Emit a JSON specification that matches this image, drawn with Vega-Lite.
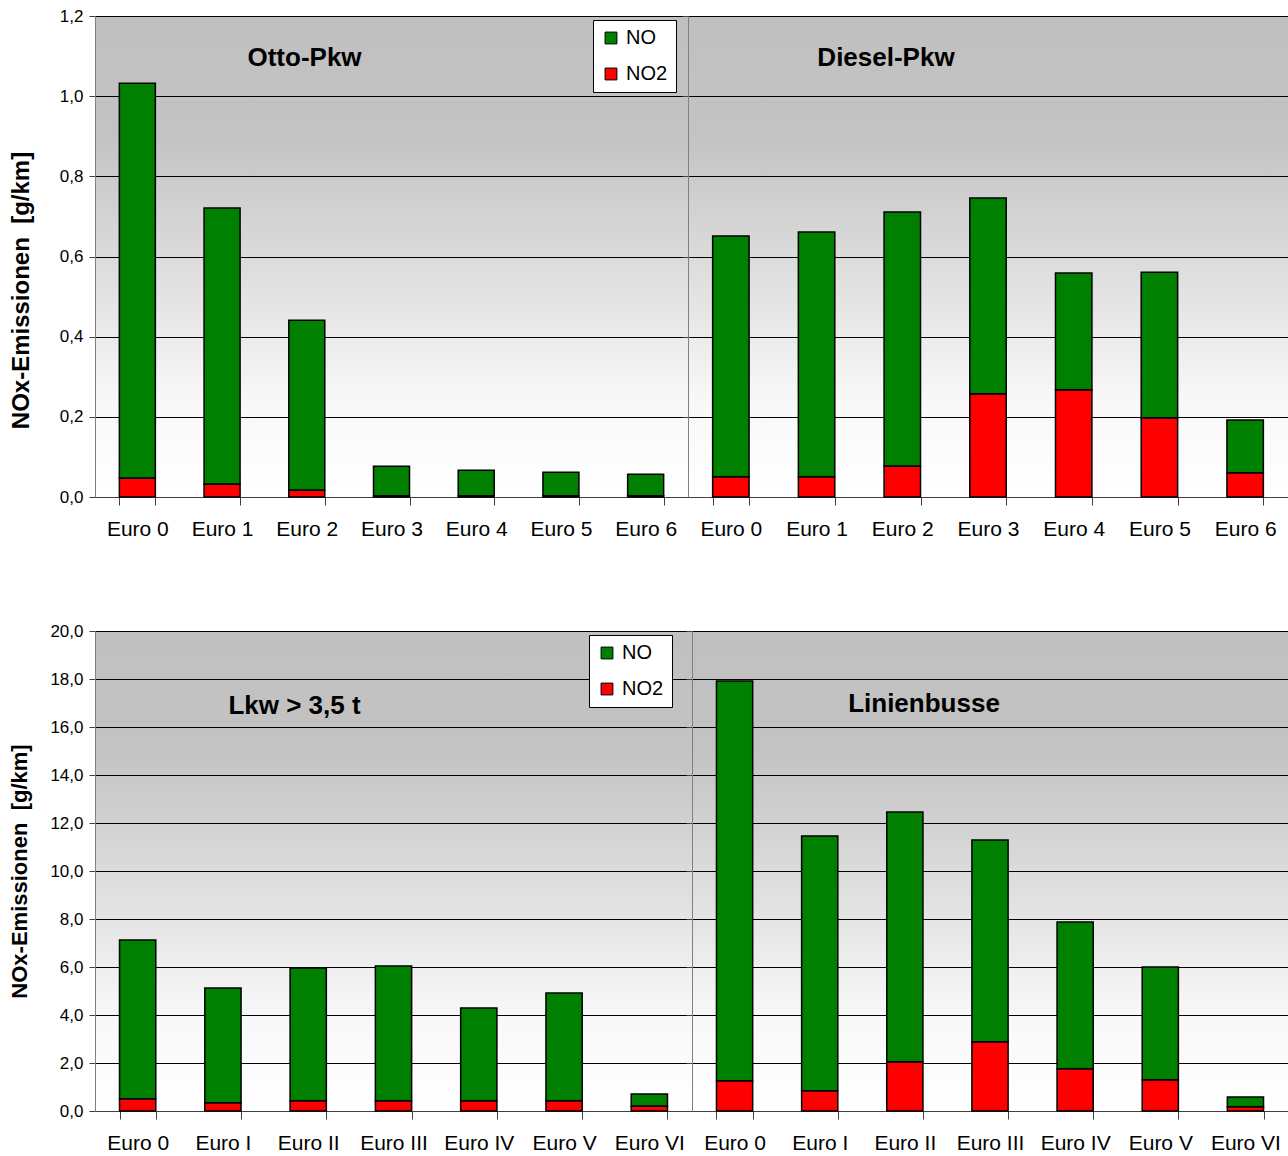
{
  "$schema": "https://vega.github.io/schema/vega-lite/v6.json",
  "padding": {"left": 8, "top": 6, "right": 0, "bottom": 0},
  "background": "white",
  "config": {
    "locale": {"number": {"decimal": ",", "thousands": ".", "grouping": [3], "currency": ["", " €"]}},
    "font": "Liberation Sans",
    "view": {
      "stroke": "#808080",
      "strokeWidth": 1,
      "fill": {"gradient": "linear", "x1": 0, "y1": 0, "x2": 0, "y2": 1,
        "stops": [{"offset": 0, "color": "#c0c0c0"}, {"offset": 0.25, "color": "#c3c3c3"}, {"offset": 0.8, "color": "#f8f8f8"}, {"offset": 1, "color": "#ffffff"}]}
    },
    "axisX": {"tickBand": "extent", "tickSize": 8, "tickColor": "#404040", "domainColor": "#404040", "labelFontSize": 21, "labelPadding": 13, "labelAngle": 0, "labelColor": "#000", "grid": false, "title": null},
    "axisY": {"tickSize": 6, "tickColor": "#404040", "domainColor": "#808080", "labelFontSize": 17, "labelPadding": 6, "labelColor": "#000", "grid": true, "gridColor": "#000", "gridOpacity": 1, "gridWidth": 1, "titleFontWeight": "bold", "titleColor": "#000"},
    "legend": {"orient": "none", "direction": "vertical", "fillColor": "white", "strokeColor": "#000", "padding": 8, "columnPadding": 0, "symbolType": "square", "symbolSize": 140, "symbolStrokeColor": "#000", "symbolStrokeWidth": 1, "symbolOpacity": 1, "labelFontSize": 20, "labelColor": "#000", "rowPadding": 16, "labelOffset": 5},
    "title": {"fontSize": 26, "fontWeight": "bold", "color": "#000", "frame": "group", "baseline": "middle", "anchor": "middle"}
  },
  "datasets": {
    "pkw": [
      {"group": "Otto-Pkw", "klasse": "Euro 0", "komp": "NO", "wert": 0.985},
      {"group": "Otto-Pkw", "klasse": "Euro 0", "komp": "NO2", "wert": 0.047},
      {"group": "Otto-Pkw", "klasse": "Euro 1", "komp": "NO", "wert": 0.689},
      {"group": "Otto-Pkw", "klasse": "Euro 1", "komp": "NO2", "wert": 0.032},
      {"group": "Otto-Pkw", "klasse": "Euro 2", "komp": "NO", "wert": 0.424},
      {"group": "Otto-Pkw", "klasse": "Euro 2", "komp": "NO2", "wert": 0.017},
      {"group": "Otto-Pkw", "klasse": "Euro 3", "komp": "NO", "wert": 0.074},
      {"group": "Otto-Pkw", "klasse": "Euro 3", "komp": "NO2", "wert": 0.003},
      {"group": "Otto-Pkw", "klasse": "Euro 4", "komp": "NO", "wert": 0.064},
      {"group": "Otto-Pkw", "klasse": "Euro 4", "komp": "NO2", "wert": 0.003},
      {"group": "Otto-Pkw", "klasse": "Euro 5", "komp": "NO", "wert": 0.059},
      {"group": "Otto-Pkw", "klasse": "Euro 5", "komp": "NO2", "wert": 0.003},
      {"group": "Otto-Pkw", "klasse": "Euro 6", "komp": "NO", "wert": 0.054},
      {"group": "Otto-Pkw", "klasse": "Euro 6", "komp": "NO2", "wert": 0.003},
      {"group": "Diesel-Pkw", "klasse": "Euro 0", "komp": "NO", "wert": 0.601},
      {"group": "Diesel-Pkw", "klasse": "Euro 0", "komp": "NO2", "wert": 0.050},
      {"group": "Diesel-Pkw", "klasse": "Euro 1", "komp": "NO", "wert": 0.611},
      {"group": "Diesel-Pkw", "klasse": "Euro 1", "komp": "NO2", "wert": 0.050},
      {"group": "Diesel-Pkw", "klasse": "Euro 2", "komp": "NO", "wert": 0.634},
      {"group": "Diesel-Pkw", "klasse": "Euro 2", "komp": "NO2", "wert": 0.077},
      {"group": "Diesel-Pkw", "klasse": "Euro 3", "komp": "NO", "wert": 0.489},
      {"group": "Diesel-Pkw", "klasse": "Euro 3", "komp": "NO2", "wert": 0.257},
      {"group": "Diesel-Pkw", "klasse": "Euro 4", "komp": "NO", "wert": 0.292},
      {"group": "Diesel-Pkw", "klasse": "Euro 4", "komp": "NO2", "wert": 0.267},
      {"group": "Diesel-Pkw", "klasse": "Euro 5", "komp": "NO", "wert": 0.364},
      {"group": "Diesel-Pkw", "klasse": "Euro 5", "komp": "NO2", "wert": 0.197},
      {"group": "Diesel-Pkw", "klasse": "Euro 6", "komp": "NO", "wert": 0.132},
      {"group": "Diesel-Pkw", "klasse": "Euro 6", "komp": "NO2", "wert": 0.060}
    ],
    "nfz": [
      {"group": "Lkw", "klasse": "Euro 0", "komp": "NO", "wert": 6.62},
      {"group": "Lkw", "klasse": "Euro 0", "komp": "NO2", "wert": 0.50},
      {"group": "Lkw", "klasse": "Euro I", "komp": "NO", "wert": 4.79},
      {"group": "Lkw", "klasse": "Euro I", "komp": "NO2", "wert": 0.33},
      {"group": "Lkw", "klasse": "Euro II", "komp": "NO", "wert": 5.54},
      {"group": "Lkw", "klasse": "Euro II", "komp": "NO2", "wert": 0.42},
      {"group": "Lkw", "klasse": "Euro III", "komp": "NO", "wert": 5.62},
      {"group": "Lkw", "klasse": "Euro III", "komp": "NO2", "wert": 0.42},
      {"group": "Lkw", "klasse": "Euro IV", "komp": "NO", "wert": 3.87},
      {"group": "Lkw", "klasse": "Euro IV", "komp": "NO2", "wert": 0.42},
      {"group": "Lkw", "klasse": "Euro V", "komp": "NO", "wert": 4.50},
      {"group": "Lkw", "klasse": "Euro V", "komp": "NO2", "wert": 0.42},
      {"group": "Lkw", "klasse": "Euro VI", "komp": "NO", "wert": 0.51},
      {"group": "Lkw", "klasse": "Euro VI", "komp": "NO2", "wert": 0.20},
      {"group": "Busse", "klasse": "Euro 0", "komp": "NO", "wert": 16.67},
      {"group": "Busse", "klasse": "Euro 0", "komp": "NO2", "wert": 1.25},
      {"group": "Busse", "klasse": "Euro I", "komp": "NO", "wert": 10.63},
      {"group": "Busse", "klasse": "Euro I", "komp": "NO2", "wert": 0.83},
      {"group": "Busse", "klasse": "Euro II", "komp": "NO", "wert": 10.42},
      {"group": "Busse", "klasse": "Euro II", "komp": "NO2", "wert": 2.04},
      {"group": "Busse", "klasse": "Euro III", "komp": "NO", "wert": 8.41},
      {"group": "Busse", "klasse": "Euro III", "komp": "NO2", "wert": 2.88},
      {"group": "Busse", "klasse": "Euro IV", "komp": "NO", "wert": 6.13},
      {"group": "Busse", "klasse": "Euro IV", "komp": "NO2", "wert": 1.75},
      {"group": "Busse", "klasse": "Euro V", "komp": "NO", "wert": 4.71},
      {"group": "Busse", "klasse": "Euro V", "komp": "NO2", "wert": 1.29},
      {"group": "Busse", "klasse": "Euro VI", "komp": "NO", "wert": 0.41},
      {"group": "Busse", "klasse": "Euro VI", "komp": "NO2", "wert": 0.17}
    ]
  },
  "spacing": 81,
  "resolve": {"scale": {"color": "independent"}, "legend": {"color": "independent"}},
  "vconcat": [
    {
      "spacing": 0,
      "bounds": "flush",
      "resolve": {"scale": {"color": "independent", "y": "independent"}, "legend": {"color": "independent"}},
      "hconcat": [
        {
          "width": 593, "height": 481,
          "title": {"text": "Otto-Pkw", "offset": -64, "dx": -87},
          "data": {"name": "pkw"},
          "transform": [{"filter": "datum.group === 'Otto-Pkw'"}],
          "mark": {"type": "bar", "stroke": "#000", "strokeWidth": 1.5},
          "encoding": {
            "x": {"field": "klasse", "type": "nominal", "sort": null, "scale": {"paddingInner": 0.575, "paddingOuter": 0.2875}},
            "y": {"field": "wert", "type": "quantitative", "stack": "zero", "scale": {"domain": [0, 1.2], "nice": false},
              "axis": {"values": [0, 0.2, 0.4, 0.6, 0.8, 1.0, 1.2], "format": ".1f", "title": "NOx-Emissionen\u00a0 [g/km]", "titleFontSize": 24, "titlePadding": 26, "titleY": 274}},
            "color": {"field": "komp", "type": "nominal", "scale": {"domain": ["NO", "NO2"], "range": ["#008000", "#ff0000"]},
              "legend": {"title": null, "legendX": 498, "legendY": 4}},
            "order": {"field": "komp", "sort": "descending"}
          }
        },
        {
          "width": 600, "height": 481,
          "title": {"text": "Diesel-Pkw", "offset": -55, "dx": -102},
          "data": {"name": "pkw"},
          "transform": [{"filter": "datum.group === 'Diesel-Pkw'"}],
          "mark": {"type": "bar", "stroke": "#000", "strokeWidth": 1.5},
          "encoding": {
            "x": {"field": "klasse", "type": "nominal", "sort": null, "scale": {"paddingInner": 0.575, "paddingOuter": 0.2875}},
            "y": {"field": "wert", "type": "quantitative", "stack": "zero", "scale": {"domain": [0, 1.2], "nice": false},
              "axis": {"values": [0, 0.2, 0.4, 0.6, 0.8, 1.0, 1.2], "labels": false, "title": null}},
            "color": {"field": "komp", "type": "nominal", "scale": {"domain": ["NO", "NO2"], "range": ["#008000", "#ff0000"]}, "legend": null},
            "order": {"field": "komp", "sort": "descending"}
          }
        }
      ]
    },
    {
      "spacing": 0,
      "bounds": "flush",
      "resolve": {"scale": {"color": "independent", "y": "independent"}, "legend": {"color": "independent"}},
      "hconcat": [
        {
          "width": 597, "height": 480,
          "title": {"text": "Lkw > 3,5 t", "offset": -97, "dx": -99},
          "data": {"name": "nfz"},
          "transform": [{"filter": "datum.group === 'Lkw'"}],
          "mark": {"type": "bar", "stroke": "#000", "strokeWidth": 1.5},
          "encoding": {
            "x": {"field": "klasse", "type": "nominal", "sort": null, "scale": {"paddingInner": 0.575, "paddingOuter": 0.2875}},
            "y": {"field": "wert", "type": "quantitative", "stack": "zero", "scale": {"domain": [0, 20], "nice": false},
              "axis": {"values": [0, 2, 4, 6, 8, 10, 12, 14, 16, 18, 20], "format": ".1f", "title": "NOx-Emissionen\u00a0 [g/km]", "titleFontSize": 22, "titlePadding": 18}},
            "color": {"field": "komp", "type": "nominal", "scale": {"domain": ["NO", "NO2"], "range": ["#008000", "#ff0000"]},
              "legend": {"title": null, "legendX": 494, "legendY": 4}},
            "order": {"field": "komp", "sort": "descending"}
          }
        },
        {
          "width": 596, "height": 480,
          "title": {"text": "Linienbusse", "offset": -86, "dx": -66},
          "data": {"name": "nfz"},
          "transform": [{"filter": "datum.group === 'Busse'"}],
          "mark": {"type": "bar", "stroke": "#000", "strokeWidth": 1.5},
          "encoding": {
            "x": {"field": "klasse", "type": "nominal", "sort": null, "scale": {"paddingInner": 0.575, "paddingOuter": 0.2875}},
            "y": {"field": "wert", "type": "quantitative", "stack": "zero", "scale": {"domain": [0, 20], "nice": false},
              "axis": {"values": [0, 2, 4, 6, 8, 10, 12, 14, 16, 18, 20], "labels": false, "title": null}},
            "color": {"field": "komp", "type": "nominal", "scale": {"domain": ["NO", "NO2"], "range": ["#008000", "#ff0000"]}, "legend": null},
            "order": {"field": "komp", "sort": "descending"}
          }
        }
      ]
    }
  ]
}
